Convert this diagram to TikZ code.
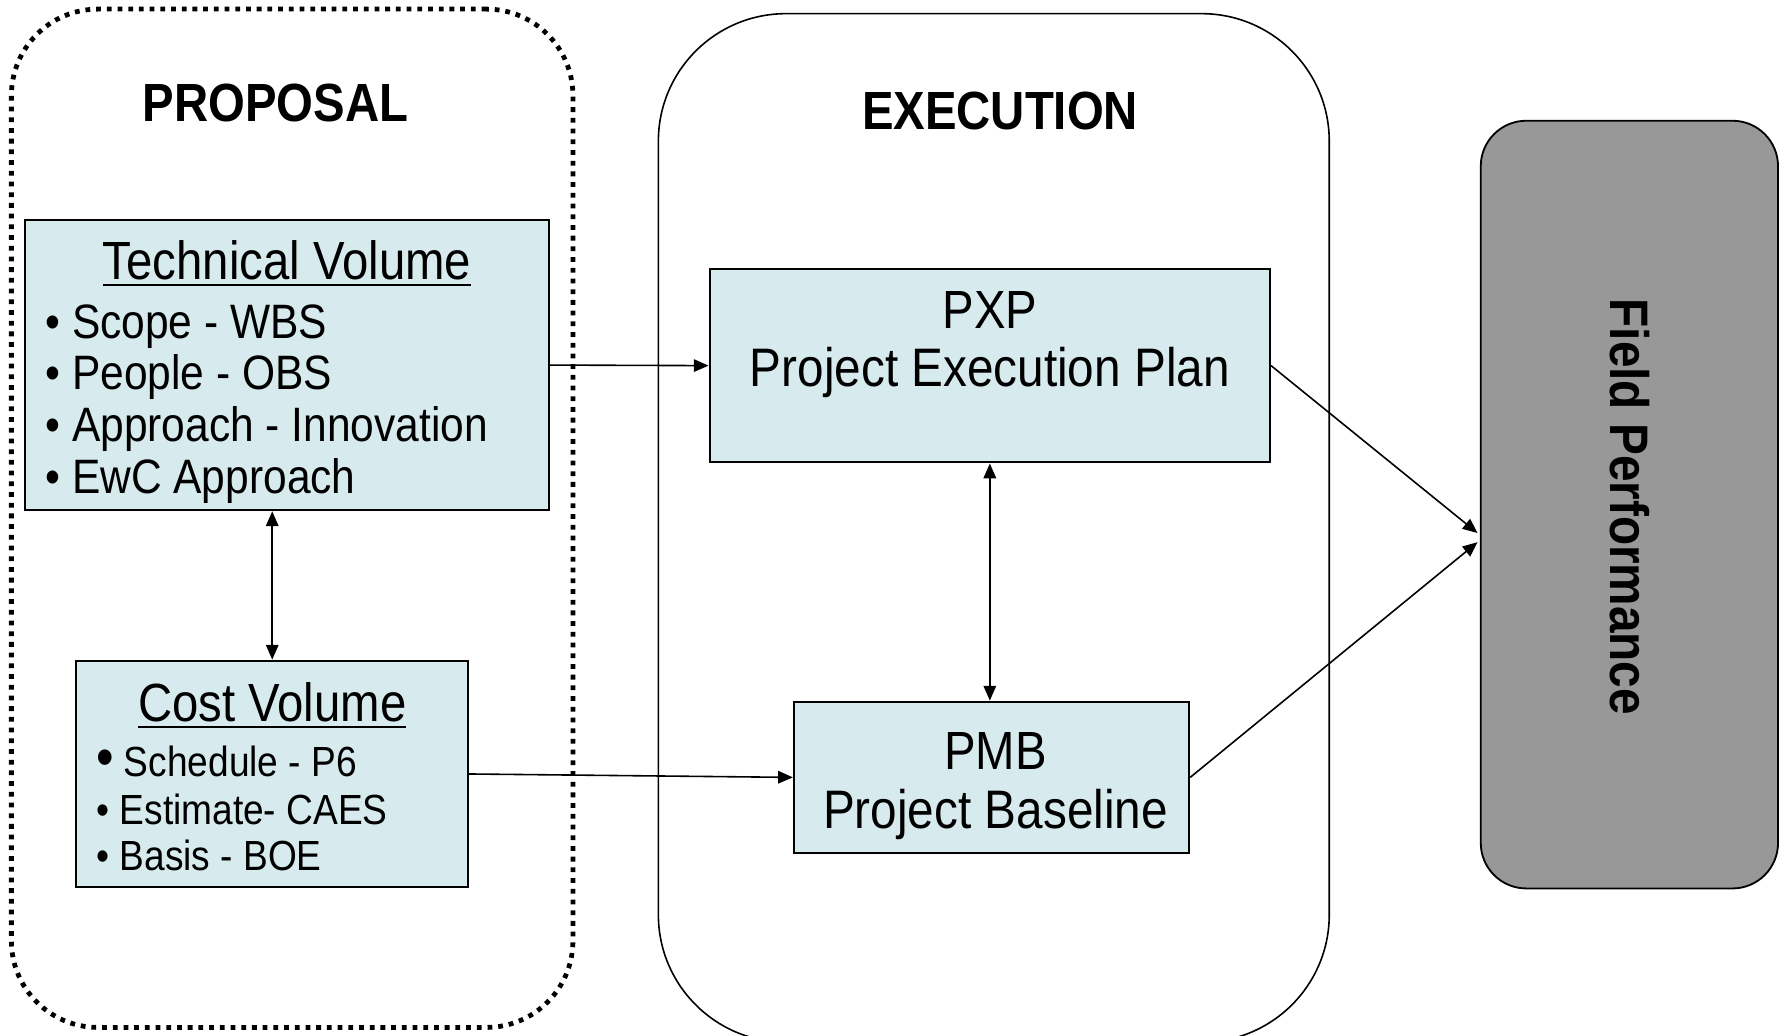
\documentclass[tikz,border=0pt]{standalone}
\usepackage{fontspec}
\setmainfont{Liberation Sans}[FakeStretch=0.88]
\usetikzlibrary{arrows.meta,calc}

\definecolor{boxfill}{HTML}{D7EBEE}
\definecolor{fpgray}{HTML}{989898}

% underlined heading with a firm rule
\newcommand\ulined[1]{\leavevmode\setbox0\hbox{#1}\rlap{\rule[-3.2pt]{\wd0}{0.9pt}}\box0}

\tikzset{
  volbox/.style={draw=black, line width=0.9pt, fill=boxfill, inner sep=0pt},
  phase/.style={draw=black, inner sep=0pt},
  link/.style={line width=0.7pt, -{Triangle[length=6.5pt,width=5.5pt]}},
  duallink/.style={line width=0.7pt, {Triangle[length=6.5pt,width=5.5pt]}-{Triangle[length=6.5pt,width=5.5pt]}},
  heading/.style={font=\bfseries\fontsize{23.6}{28}\selectfont, inner sep=0pt, anchor=base},
  title/.style={font=\fontsize{23.6}{28}\selectfont, inner sep=0pt, anchor=base},
  tvitem/.style={font=\fontsize{21.2}{25}\selectfont, inner sep=0pt, anchor=base west},
  cvitem/.style={font=\fontsize{18.5}{22}\selectfont, inner sep=0pt, anchor=base west},
}

\begin{document}
\begin{tikzpicture}[x=0.5pt,y=-0.5pt]
\useasboundingbox (0,0) rectangle (1568,909);
\clip (0,0) rectangle (1568,909);

% phase containers (the execution frame runs off the lower edge)
\node (proposal) [phase, line width=2.1pt, dash pattern=on 2.1pt off 2.6pt,
  rounded corners=38pt, minimum width=246.5pt, minimum height=447pt] at (256.5,455) {};
\node (execution) [phase, line width=0.7pt, rounded corners=56pt,
  minimum width=294.5pt, minimum height=451.5pt] at (872.5,463.5) {};
\node (fp) [phase, line width=0.8pt, fill=fpgray, rounded corners=20pt,
  minimum width=130.5pt, minimum height=337pt] at (1430.5,443) {};

\node (proptitle) [heading] at (242,107) {PROPOSAL};
\node (exectitle) [heading] at (878,114) {EXECUTION};
\node (fptext) [font=\bfseries\fontsize{23.8}{28}\selectfont, inner sep=0pt, rotate=-90]
  at (1431,445) {Field Performance};

% technical volume
\node (tv) [volbox, minimum width=230pt, minimum height=127.5pt] at (252,320.5) {};
\node (tvtitle) [title] at (252,245) {\ulined{Technical Volume}};
\node (tv1) [tvitem] at (39.5,297) {• Scope - WBS};
\node (tv2) [tvitem] at (39.5,342) {• People - OBS};
\node (tv3) [tvitem] at (39.5,388) {• Approach - Innovation};
\node (tv4) [tvitem] at (39.5,433) {• EwC Approach};

% cost volume
\node (cv) [volbox, minimum width=172pt, minimum height=99.5pt] at (239,679.5) {};
\node (cvtitle) [title] at (239,633) {\ulined{Cost Volume}};
\node (cv1) [cvitem] at (84,682) {{\fontsize{25}{25}\selectfont •}\ Schedule - P6};
\node (cv2) [cvitem] at (84.3,724) {• Estimate- CAES};
\node (cv3) [cvitem] at (84.3,764) {• Basis - BOE};

% execution documents
\node (pxp) [volbox, minimum width=246pt, minimum height=85pt] at (869,321) {};
\node (pxp1) [title] at (869,288.5) {PXP};
\node (pxp2) [title, font=\fontsize{23.8}{28}\selectfont] at (869,339) {Project Execution Plan};

\node (pmb) [volbox, minimum width=173.5pt, minimum height=66.5pt] at (870.5,682.5) {};
\node (pmb1) [title] at (874,676) {PMB};
\node (pmb2) [title, font=\fontsize{23.8}{28}\selectfont] at (874,727) {Project Baseline};

% connectors
\draw[link] (tv.east) -- (pxp.west);
\draw[duallink] (cv.north |- tv.south) -- (cv.north);
\draw[link] (cv.east) -- (pmb.west);
\draw[duallink] (pxp.south) -- (pmb.north -| pxp.south);
\draw[link] (pxp.east) -- ($(fp.west)+(-2,25)$);
\draw[link] (pmb.east) -- ($(fp.west)+(-2,33)$);
\end{tikzpicture}
\end{document}
